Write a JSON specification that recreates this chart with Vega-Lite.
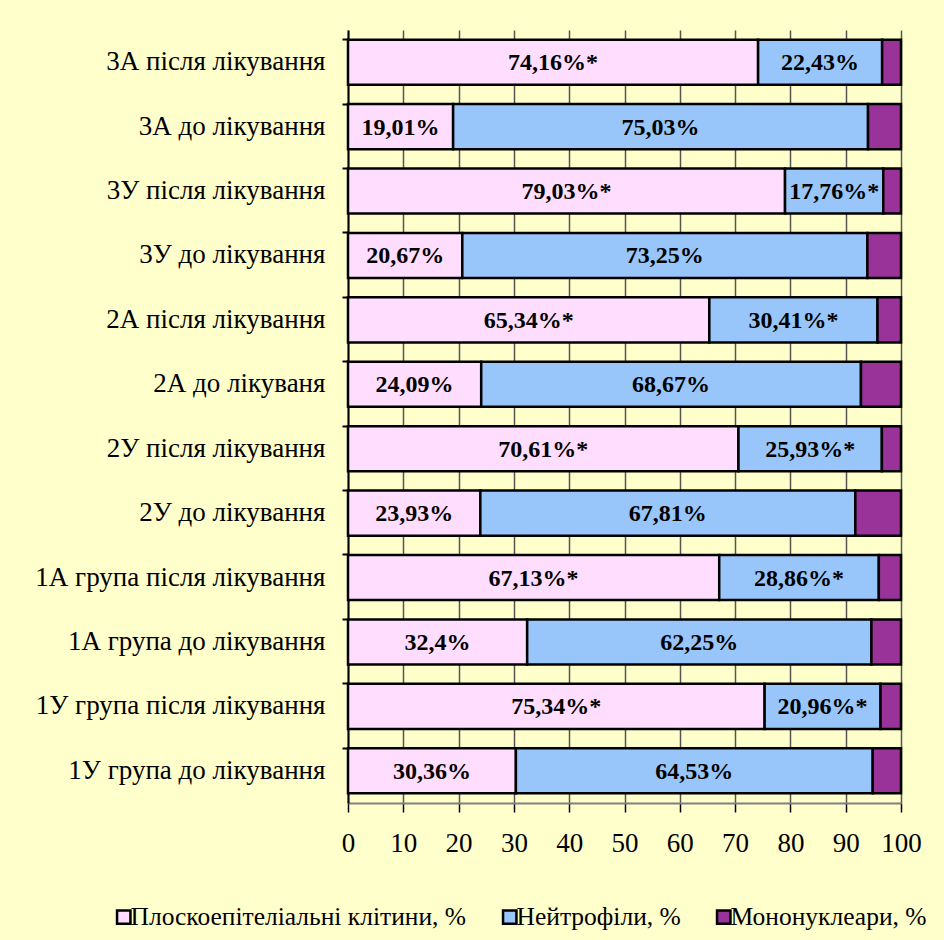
{
  "$schema": "https://vega.github.io/schema/vega-lite/v6.json",
  "autosize": "none",
  "width": 553,
  "height": 773,
  "padding": {"left": 348, "top": 30, "right": 43, "bottom": 137},
  "background": "#FFFFCC",
  "config": {
    "view": {"stroke": null},
    "font": "Liberation Serif"
  },
  "data": {
    "values": [
      {"group": "3А після лікування", "cell": "Плоскоепітеліальні клітини, %", "value": 74.16, "label": "74,16%*"},
      {"group": "3А після лікування", "cell": "Нейтрофіли, %", "value": 22.43, "label": "22,43%"},
      {"group": "3А після лікування", "cell": "Мононуклеари, %", "value": 3.41, "label": ""},
      {"group": "3А до лікування", "cell": "Плоскоепітеліальні клітини, %", "value": 19.01, "label": "19,01%"},
      {"group": "3А до лікування", "cell": "Нейтрофіли, %", "value": 75.03, "label": "75,03%"},
      {"group": "3А до лікування", "cell": "Мононуклеари, %", "value": 5.96, "label": ""},
      {"group": "3У після лікування", "cell": "Плоскоепітеліальні клітини, %", "value": 79.03, "label": "79,03%*"},
      {"group": "3У після лікування", "cell": "Нейтрофіли, %", "value": 17.76, "label": "17,76%*"},
      {"group": "3У після лікування", "cell": "Мононуклеари, %", "value": 3.21, "label": ""},
      {"group": "3У до лікування", "cell": "Плоскоепітеліальні клітини, %", "value": 20.67, "label": "20,67%"},
      {"group": "3У до лікування", "cell": "Нейтрофіли, %", "value": 73.25, "label": "73,25%"},
      {"group": "3У до лікування", "cell": "Мононуклеари, %", "value": 6.08, "label": ""},
      {"group": "2А після лікування", "cell": "Плоскоепітеліальні клітини, %", "value": 65.34, "label": "65,34%*"},
      {"group": "2А після лікування", "cell": "Нейтрофіли, %", "value": 30.41, "label": "30,41%*"},
      {"group": "2А після лікування", "cell": "Мононуклеари, %", "value": 4.25, "label": ""},
      {"group": "2А до лікуваня", "cell": "Плоскоепітеліальні клітини, %", "value": 24.09, "label": "24,09%"},
      {"group": "2А до лікуваня", "cell": "Нейтрофіли, %", "value": 68.67, "label": "68,67%"},
      {"group": "2А до лікуваня", "cell": "Мононуклеари, %", "value": 7.24, "label": ""},
      {"group": "2У після лікування", "cell": "Плоскоепітеліальні клітини, %", "value": 70.61, "label": "70,61%*"},
      {"group": "2У після лікування", "cell": "Нейтрофіли, %", "value": 25.93, "label": "25,93%*"},
      {"group": "2У після лікування", "cell": "Мононуклеари, %", "value": 3.46, "label": ""},
      {"group": "2У до лікування", "cell": "Плоскоепітеліальні клітини, %", "value": 23.93, "label": "23,93%"},
      {"group": "2У до лікування", "cell": "Нейтрофіли, %", "value": 67.81, "label": "67,81%"},
      {"group": "2У до лікування", "cell": "Мононуклеари, %", "value": 8.26, "label": ""},
      {"group": "1А група після лікування", "cell": "Плоскоепітеліальні клітини, %", "value": 67.13, "label": "67,13%*"},
      {"group": "1А група після лікування", "cell": "Нейтрофіли, %", "value": 28.86, "label": "28,86%*"},
      {"group": "1А група після лікування", "cell": "Мононуклеари, %", "value": 4.01, "label": ""},
      {"group": "1А група до лікування", "cell": "Плоскоепітеліальні клітини, %", "value": 32.4, "label": "32,4%"},
      {"group": "1А група до лікування", "cell": "Нейтрофіли, %", "value": 62.25, "label": "62,25%"},
      {"group": "1А група до лікування", "cell": "Мононуклеари, %", "value": 5.35, "label": ""},
      {"group": "1У група після лікування", "cell": "Плоскоепітеліальні клітини, %", "value": 75.34, "label": "75,34%*"},
      {"group": "1У група після лікування", "cell": "Нейтрофіли, %", "value": 20.96, "label": "20,96%*"},
      {"group": "1У група після лікування", "cell": "Мононуклеари, %", "value": 3.7, "label": ""},
      {"group": "1У група до лікування", "cell": "Плоскоепітеліальні клітини, %", "value": 30.36, "label": "30,36%"},
      {"group": "1У група до лікування", "cell": "Нейтрофіли, %", "value": 64.53, "label": "64,53%"},
      {"group": "1У група до лікування", "cell": "Мононуклеари, %", "value": 5.11, "label": ""}
    ]
  },
  "encoding": {
    "y": {
      "field": "group", "type": "nominal", "sort": null,
      "scale": {"paddingInner": 0.3, "paddingOuter": 0.15},
      "axis": {
        "title": null, "bandPosition": 0, "domainColor": "#000000", "domainWidth": 2,
        "tickColor": "#000000", "tickWidth": 2, "tickSize": 6,
        "labelFontSize": 27, "labelColor": "#000000", "labelPadding": 17, "labelFont": "Liberation Serif", "labelLimit": 400
      }
    },
    "x": {
      "field": "value", "type": "quantitative", "stack": "zero",
      "scale": {"domain": [0, 100], "nice": false},
      "axis": {
        "title": null, "values": [0,10,20,30,40,50,60,70,80,90,100],
        "domainColor": "#808080", "domainWidth": 2,
        "tickColor": "#000000", "tickWidth": 1.5, "tickSize": 9,
        "grid": true, "gridColor": "#555555", "gridWidth": 1.5,
        "labelFlush": false, "labelOverlap": false, "labelBound": false,
        "labelFontSize": 27, "labelColor": "#000000", "labelPadding": 18, "labelFont": "Liberation Serif"
      }
    },
    "order": {"field": "cell", "sort": "descending"}
  },
  "layer": [
    {
      "mark": {"type": "bar", "stroke": "#000000", "strokeWidth": 2.5},
      "encoding": {
        "color": {
          "field": "cell", "type": "nominal",
          "scale": {
            "domain": ["Плоскоепітеліальні клітини, %", "Нейтрофіли, %", "Мононуклеари, %"],
            "range": ["#FFDDFF", "#99C6FA", "#993399"]
          },
          "legend": {
            "title": null, "orient": "none", "direction": "horizontal",
            "legendX": -237, "legendY": 874,
            "symbolType": "square", "symbolSize": 180, "symbolStrokeColor": "#000000", "symbolStrokeWidth": 2.5,
            "labelFontSize": 25.5, "labelFont": "Liberation Serif", "labelColor": "#000000", "labelLimit": 500,
            "columnPadding": 30, "labelOffset": -6
          }
        }
      }
    },
    {
      "mark": {"type": "text", "fontWeight": "bold", "fontSize": 24, "font": "Liberation Serif", "color": "#000000", "baseline": "middle", "align": "center", "dy": 1},
      "encoding": {
        "x": {"field": "value", "type": "quantitative", "stack": "zero", "bandPosition": 0.5},
        "text": {"field": "label"}
      }
    }
  ]
}
